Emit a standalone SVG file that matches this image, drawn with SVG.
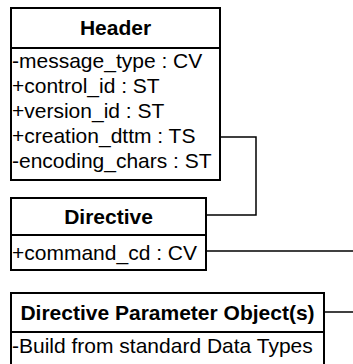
<svg xmlns="http://www.w3.org/2000/svg" width="353" height="364" viewBox="0 0 353 364">
<style>
.box{fill:#fff;stroke:#000;stroke-width:2}
.sep{stroke:#000;stroke-width:2}
.t{font-family:"Liberation Sans",Arial,sans-serif;font-size:21px;fill:#000}
.b{font-weight:bold;text-anchor:middle}
.c{fill:none;stroke:#000;stroke-width:1.5}
</style>
<rect width="353" height="364" fill="#fff"/>
<g id="connectors">
<polyline class="c" points="220,137 256,137 256,215 206,215"/>
<line class="c" x1="206" y1="251" x2="353" y2="251"/>
<line class="c" x1="324" y1="312" x2="353" y2="312"/>
</g>
<g id="header">
<rect class="box" x="11" y="8" width="209" height="172"/>
<line class="sep" x1="11" y1="48" x2="220" y2="48"/>
<text class="t b" x="115.5" y="35">Header</text>
<text class="t" x="12" y="68">-message_type : CV</text>
<text class="t" x="12" y="93">+control_id : ST</text>
<text class="t" x="12" y="118">+version_id : ST</text>
<text class="t" x="12" y="143">+creation_dttm : TS</text>
<text class="t" x="12" y="168">-encoding_chars : ST</text>
</g>
<g id="directive">
<rect class="box" x="11" y="198" width="195" height="72"/>
<line class="sep" x1="11" y1="235" x2="206" y2="235"/>
<text class="t b" x="108.5" y="224">Directive</text>
<text class="t" x="12" y="260">+command_cd : CV</text>
</g>
<g id="dpo">
<rect class="box" x="11" y="293" width="313" height="80"/>
<line class="sep" x1="11" y1="332" x2="324" y2="332"/>
<text class="t b" x="167.5" y="320">Directive Parameter Object(s)</text>
<text class="t" x="12" y="353">-Build from standard Data Types</text>
</g>
</svg>
